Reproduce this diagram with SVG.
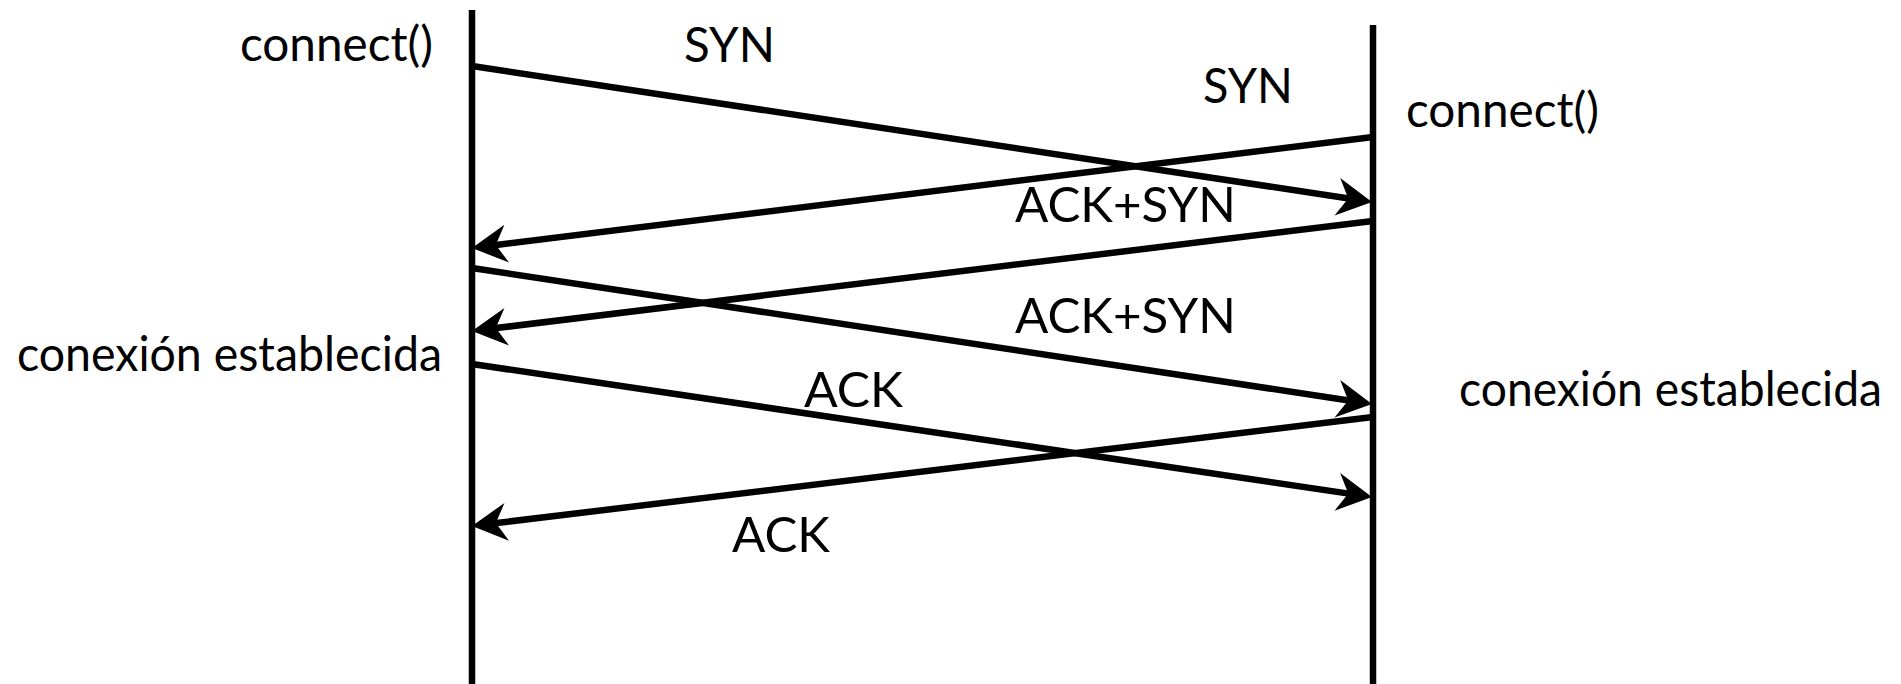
<svg xmlns="http://www.w3.org/2000/svg" width="1901" height="684" viewBox="0 0 1901 684">
<style>
.lbl{font-family:Lato,"Open Sans","Liberation Sans",sans-serif;font-size:48px;fill:#000}
.life{stroke:#000;stroke-width:6.5;fill:none}
.msg{stroke:#000;stroke-width:6.5;fill:none;marker-end:url(#ah)}
</style>
<defs>
<marker id="ah" markerUnits="userSpaceOnUse" viewBox="-40 -22 44 44" markerWidth="44" markerHeight="44" refX="-20" refY="0" orient="auto" overflow="visible">
<path d="M0,0 L-35,-19 L-24,0 L-35,19 Z" fill="#000"/>
</marker>
</defs>
<rect width="1901" height="684" fill="#fff"/>
<g id="lifeline-left"><line class="life" x1="472" y1="10" x2="472" y2="684"/></g>
<g id="lifeline-right"><line class="life" x1="1373" y1="25" x2="1373" y2="684"/></g>
<g id="connectors">
<line class="msg" x1="472" y1="66" x2="1352.2" y2="199"/>
<line class="msg" x1="1373" y1="137" x2="491.85" y2="245.55"/>
<line class="msg" x1="1373" y1="221" x2="491.85" y2="328.58"/>
<line class="msg" x1="472" y1="268" x2="1352.2" y2="401"/>
<line class="msg" x1="472" y1="364" x2="1352.2" y2="494.1"/>
<line class="msg" x1="1373" y1="417" x2="491.86" y2="523.6"/>
</g>
<g id="labels">
<text class="lbl" x="240" y="61" textLength="193" lengthAdjust="spacingAndGlyphs">connect()</text>
<text class="lbl" x="684" y="62" textLength="91" lengthAdjust="spacingAndGlyphs">SYN</text>
<text class="lbl" x="1203" y="103" textLength="90" lengthAdjust="spacingAndGlyphs">SYN</text>
<text class="lbl" x="1406" y="127" textLength="193" lengthAdjust="spacingAndGlyphs">connect()</text>
<text class="lbl" x="1015" y="222" textLength="221" lengthAdjust="spacingAndGlyphs">ACK+SYN</text>
<text class="lbl" x="1015" y="333" textLength="221" lengthAdjust="spacingAndGlyphs">ACK+SYN</text>
<text class="lbl" x="17" y="371" textLength="425" lengthAdjust="spacingAndGlyphs">conexión establecida</text>
<text class="lbl" x="1459" y="406" textLength="423" lengthAdjust="spacingAndGlyphs">conexión establecida</text>
<text class="lbl" x="804" y="407" textLength="99" lengthAdjust="spacingAndGlyphs">ACK</text>
<text class="lbl" x="732" y="552" textLength="98" lengthAdjust="spacingAndGlyphs">ACK</text>
</g>
</svg>
